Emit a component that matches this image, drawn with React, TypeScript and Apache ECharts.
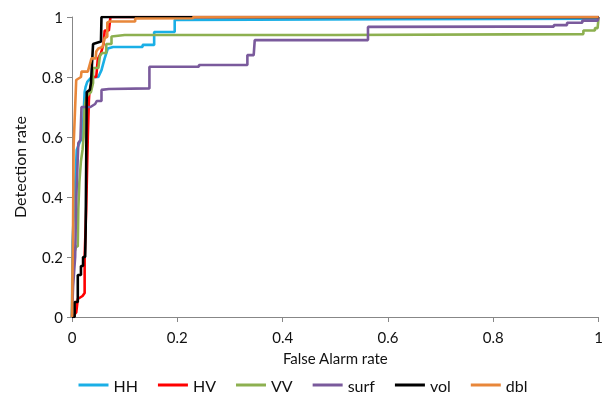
import React, { useEffect, useRef } from "react";
import * as echarts from "echarts";

const seriesNames = ["HH", "HV", "VV", "surf", "vol", "dbl"];
const seriesColors = ["#1AAFE6", "#FF0000", "#8DB050", "#7A5A9C", "#000000", "#E8873A"];

const xTicks = [0, 0.2, 0.4, 0.6, 0.8, 1];
const yTicks = [0, 0.2, 0.4, 0.6, 0.8, 1];

const hh: number[][] = [
  [0, 0], [0.001, 0.25], [0.005, 0.4], [0.009, 0.557], [0.015, 0.584], [0.02, 0.6],
  [0.024, 0.75], [0.026, 0.768], [0.029, 0.784], [0.037, 0.8], [0.05, 0.8],
  [0.056, 0.823], [0.062, 0.862], [0.068, 0.895], [0.078, 0.9], [0.134, 0.9],
  [0.134, 0.907], [0.156, 0.907], [0.156, 0.95], [0.195, 0.95], [0.195, 0.99],
  [0.6, 0.993], [0.998, 0.994], [1, 1],
];

const hv: number[][] = [
  [0, 0], [0.003, 0.005], [0.008, 0.015], [0.011, 0.06], [0.02, 0.07], [0.024, 0.08],
  [0.024, 0.2], [0.027, 0.36], [0.03, 0.6], [0.032, 0.72], [0.033, 0.75],
  [0.04, 0.8], [0.046, 0.8], [0.049, 0.86], [0.055, 0.88], [0.06, 0.91],
  [0.062, 0.955], [0.07, 0.955], [0.073, 1.0], [1, 1],
];

const vv: number[][] = [
  [0, 0], [0.002, 0.2], [0.008, 0.235], [0.011, 0.235], [0.012, 0.36], [0.014, 0.45],
  [0.017, 0.52], [0.02, 0.557], [0.022, 0.6], [0.024, 0.7], [0.027, 0.73],
  [0.03, 0.74], [0.036, 0.75], [0.04, 0.78], [0.04, 0.83], [0.05, 0.83],
  [0.053, 0.87], [0.057, 0.88], [0.065, 0.88], [0.065, 0.91], [0.075, 0.91],
  [0.075, 0.935], [0.1, 0.94], [0.5, 0.94], [0.971, 0.943], [0.971, 0.955],
  [0.993, 0.955], [0.993, 0.963], [0.998, 0.963], [1, 1],
];

const surf: number[][] = [
  [0, 0], [0.002, 0.1], [0.006, 0.2], [0.008, 0.39], [0.012, 0.58], [0.016, 0.59],
  [0.018, 0.7], [0.035, 0.7], [0.044, 0.71], [0.047, 0.72], [0.056, 0.72],
  [0.056, 0.757], [0.07, 0.76], [0.147, 0.762], [0.147, 0.834], [0.241, 0.834],
  [0.241, 0.84], [0.333, 0.84], [0.333, 0.873], [0.345, 0.873], [0.347, 0.923],
  [0.562, 0.923], [0.562, 0.967], [0.915, 0.968], [0.915, 0.973], [0.94, 0.973],
  [0.94, 0.981], [0.969, 0.981], [0.969, 0.988], [0.998, 0.988], [1, 1],
];

const vol: number[][] = [
  [0, 0], [0.005, 0], [0.005, 0.05], [0.011, 0.05], [0.011, 0.14], [0.017, 0.14],
  [0.017, 0.17], [0.021, 0.17], [0.021, 0.2], [0.025, 0.2], [0.026, 0.3],
  [0.028, 0.75], [0.034, 0.757], [0.036, 0.78], [0.04, 0.91], [0.055, 0.918],
  [0.056, 1.0], [1, 1],
];

const dbl: number[][] = [
  [0, 0], [0.002, 0.3], [0.003, 0.567], [0.008, 0.79], [0.017, 0.8], [0.018, 0.818],
  [0.03, 0.818], [0.037, 0.862], [0.045, 0.862], [0.046, 0.885], [0.05, 0.895],
  [0.058, 0.9], [0.062, 0.93], [0.067, 0.934], [0.067, 0.982], [0.072, 0.985],
  [0.12, 0.985], [0.12, 0.995], [0.23, 0.996], [0.23, 1.0], [1, 1],
];

const allData = [hh, hv, vv, surf, vol, dbl];

export default function App() {
  const ref = useRef<HTMLDivElement>(null);
  useEffect(() => {
    if (!ref.current) return;
    const chart = echarts.init(ref.current, null, { renderer: "svg" });
    const font = "Lato, 'Open Sans', sans-serif";
    chart.setOption({
      animation: false,
      textStyle: { fontFamily: font },
      grid: { left: 72, right: 4, top: 17, bottom: 86, containLabel: false },
      legend: {
        bottom: 5,
        left: "center",
        itemWidth: 30,
        itemHeight: 3,
        itemGap: 20,
        icon: "rect",
        textStyle: { fontSize: 16, color: "#111", fontFamily: font },
        data: seriesNames.map((n, i) => ({ name: n, itemStyle: { color: seriesColors[i] } })),
      },
      xAxis: {
        type: "value",
        min: 0,
        max: 1,
        interval: 0.2,
        name: "False Alarm rate",
        nameLocation: "middle",
        nameGap: 33,
        nameTextStyle: { fontSize: 15, color: "#111", fontFamily: font },
        splitLine: { show: false },
        axisLine: { show: true, lineStyle: { color: "#878787", width: 1 } },
        axisTick: { show: true, length: 5, lineStyle: { color: "#878787" } },
        axisLabel: {
          fontSize: 15,
          color: "#111",
          margin: 12,
          fontFamily: font,
          formatter: (v: number) => {
            const t = xTicks.find((x) => Math.abs(x - v) < 1e-9);
            return t === undefined ? "" : String(t);
          },
        },
      },
      yAxis: {
        type: "value",
        min: 0,
        max: 1,
        interval: 0.2,
        name: "Detection rate",
        nameLocation: "middle",
        nameGap: 45,
        nameTextStyle: { fontSize: 16, color: "#111", fontFamily: font },
        splitLine: { show: false },
        axisLine: { show: true, lineStyle: { color: "#878787", width: 1 } },
        axisTick: { show: true, length: 5, lineStyle: { color: "#878787" } },
        axisLabel: {
          fontSize: 15,
          color: "#111",
          margin: 9,
          fontFamily: font,
          formatter: (v: number) => {
            const t = yTicks.find((x) => Math.abs(x - v) < 1e-9);
            return t === undefined ? "" : String(t);
          },
        },
      },
      series: seriesNames.map((n, i) => ({
        name: n,
        type: "line",
        data: allData[i],
        symbol: "none",
        color: seriesColors[i],
        lineStyle: { width: 2.6, color: seriesColors[i] },
        z: 2 + i,
      })),
    });
    return () => chart.dispose();
  }, []);
  return (
    <div
      ref={ref}
      style={{ position: "fixed", left: 0, top: 0, width: 606, height: 403 }}
    />
  );
}
